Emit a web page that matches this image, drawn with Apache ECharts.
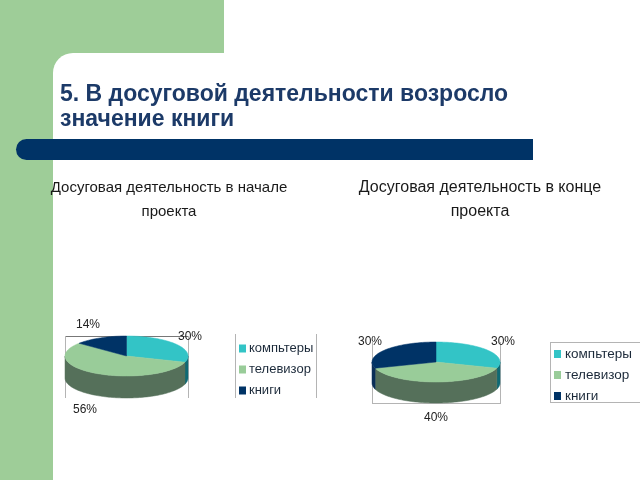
<!DOCTYPE html>
<html><head><meta charset="utf-8">
<style>html,body{margin:0;padding:0;background:#fff}#c{width:640px;height:480px}</style>
<script src="https://cdn.jsdelivr.net/npm/echarts@6/dist/echarts.min.js"></script>
</head><body><div id="c"></div>
<script>
const categories = ['компьтеры', 'телевизор', 'книги'];
const startValues = [30, 56, 14];
const endValues = [30, 40, 30];
const mainTitle = '5. В досуговой деятельности возросло\nзначение книги';
const startTitle = 'Досуговая деятельность в начале\nпроекта';
const endTitle = 'Досуговая деятельность в конце\nпроекта';

const topColors = ['#33c4c6', '#99cc99', '#003366'];
const wallColors = ['#0f6a74', '#55705a', '#0b2f58'];
const FONT = '"Liberation Sans", Arial, sans-serif';

const pieLayouts = [
  {cx:126.5, cy:356, rx:61.5, ry:20, depth:22, labels:[[190,337],[85,410],[88,325]]},
  {cx:436, cy:362, rx:64, ry:20, depth:21, labels:[[503,342],[436,418],[370,342]]}
];

function pt(L, a, dy){ return [L.cx + L.rx*Math.sin(a), L.cy - L.ry*Math.cos(a) + (dy||0)]; }
function arcPts(L, a0, a1, dy){
  const n = Math.max(2, Math.ceil((a1-a0)/0.03)), out = [];
  for (let i=0;i<=n;i++) out.push(pt(L, a0+(a1-a0)*i/n, dy));
  return out;
}
function sliceSeries(values, L, i){
  const total = values.reduce((s,v)=>s+v,0);
  const before = values.slice(0,i).reduce((s,v)=>s+v,0);
  return {
    type:'custom', name:categories[i], coordinateSystem:'none', silent:true, z:3,
    data:[values[i]],
    renderItem:function(params, api){
      const v = api.value(0);
      const a0 = before/total*2*Math.PI, a1 = (before+v)/total*2*Math.PI;
      const children = [];
      const w0 = Math.max(a0, Math.PI/2), w1 = Math.min(a1, Math.PI*1.5);
      if (w1 > w0){
        const pts = arcPts(L,w0,w1,0).concat(arcPts(L,w0,w1,L.depth).reverse());
        children.push({type:'polygon', shape:{points:pts},
          style:{fill:wallColors[i], stroke:wallColors[i], lineWidth:0.5}});
      }
      const topPts = [[L.cx,L.cy]].concat(arcPts(L,a0,a1,0));
      children.push({type:'polygon', shape:{points:topPts},
        style:{fill:topColors[i], stroke:topColors[i], lineWidth:0.5}});
      const p = L.labels[i];
      children.push({type:'text', x:p[0], y:p[1],
        style:{text:v+'%', font:'12px '+FONT, fill:'#222', align:'center', verticalAlign:'middle'}});
      return {type:'group', children:children};
    }
  };
}
function line(x1,y1,x2,y2,c){
  return {type:'line', z:1, silent:true, shape:{x1,y1,x2,y2}, style:{stroke:c||'#b4b4b4', lineWidth:1}};
}
const legendData = categories.map((n,i)=>({name:n, itemStyle:{color:topColors[i]}}));
function legend(left, top, size, pad, gap){
  return {left, top, orient:'vertical', icon:'rect', itemWidth:7, itemHeight:8, itemGap:gap,
    selectedMode:false, data:legendData, padding:0,
    textStyle:{fontFamily:FONT, fontSize:size, color:'#1c2a3a', padding:[0,0,0,pad]}};
}
const chart = echarts.init(document.getElementById('c'), null, {renderer:'canvas'});
chart.setOption({
  animation:false,
  backgroundColor:'#ffffff',
  graphic:{elements:[
    {type:'rect', z:0, silent:true, shape:{x:0,y:0,width:224,height:480}, style:{fill:'#9ecd98'}},
    {type:'rect', z:0, silent:true, shape:{x:53,y:53,width:587,height:427,r:[20,0,0,0]}, style:{fill:'#ffffff'}},
    {type:'rect', z:1, silent:true, shape:{x:16,y:139,width:517,height:21,r:[10.5,0,0,10.5]}, style:{fill:'#003366'}},
    line(65.5,336.5,188.5,336.5,'#777'), line(65.5,336,65.5,398), line(188.5,336,188.5,398),
    line(235.5,334,235.5,398), line(316.5,334,316.5,398),
    line(372.5,342,372.5,403), line(500.5,342,500.5,403), line(372,403.5,501,403.5),
    line(550.5,342,550.5,402), line(550,342.5,640,342.5), line(550,402.5,640,402.5)
  ]},
  title:[
    {text:mainTitle, left:60, top:82, padding:0,
      textStyle:{fontFamily:FONT, fontSize:23, fontWeight:'bold', color:'#1c3a68', lineHeight:25}},
    {text:startTitle, left:169, top:176, textAlign:'center', padding:0,
      textStyle:{fontFamily:FONT, fontSize:15, fontWeight:'normal', color:'#1a1a1a', lineHeight:24}},
    {text:endTitle, left:480, top:176, textAlign:'center', padding:0,
      textStyle:{fontFamily:FONT, fontSize:16, fontWeight:'normal', color:'#1a1a1a', lineHeight:24}}
  ],
  legend:[legend(239,342,13,-2,8), legend(554,347,13.5,-1,7)],
  series:[0,1,2].map(i=>sliceSeries(startValues,pieLayouts[0],i))
    .concat([0,1,2].map(i=>sliceSeries(endValues,pieLayouts[1],i)))
});
</script></body></html>
